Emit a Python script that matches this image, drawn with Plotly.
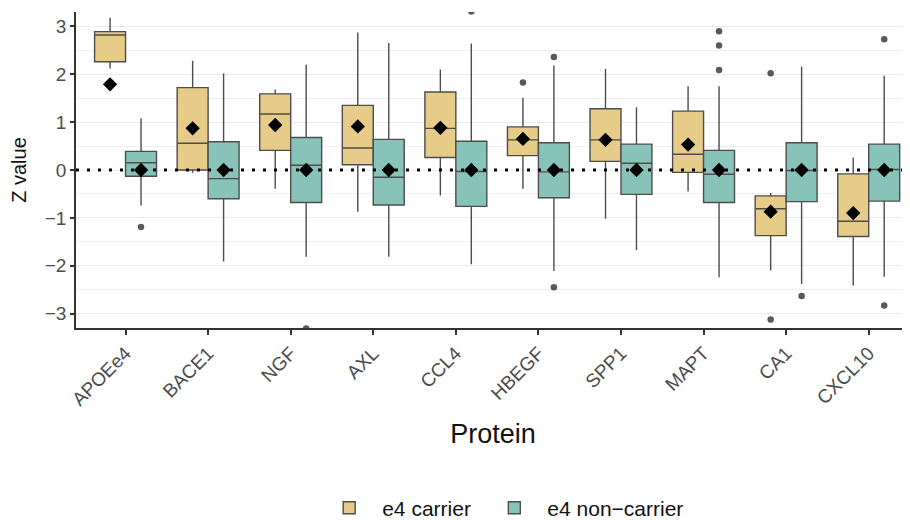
import plotly.graph_objects as go

proteins = ["APOEe4", "BACE1", "NGF", "AXL", "CCL4", "HBEGF", "SPP1", "MAPT", "CA1", "CXCL10"]
groups = ["e4 carrier", "e4 non\u2212carrier"]

# e4 carrier
car_lower = [2.12, -0.06, -0.39, -0.87, -0.53, -0.39, -1.02, -0.45, -2.10, -2.41]
car_q1 = [2.26, 0.00, 0.41, 0.11, 0.26, 0.30, 0.18, -0.05, -1.37, -1.39]
car_median = [2.82, 0.56, 1.17, 0.46, 0.87, 0.63, 0.63, 0.33, -0.81, -1.07]
car_q3 = [2.89, 1.72, 1.59, 1.35, 1.63, 0.90, 1.28, 1.23, -0.54, -0.08]
car_upper = [3.18, 2.28, 1.68, 2.87, 2.10, 1.51, 2.11, 1.75, -0.48, 0.26]
car_mean = [1.79, 0.87, 0.94, 0.91, 0.88, 0.65, 0.63, 0.53, -0.87, -0.90]
car_outliers = [[], [], [], [], [], [1.83], [], [], [2.02, -3.12], []]

# e4 non-carrier
non_lower = [-0.74, -1.91, -1.81, -1.81, -1.97, -2.11, -1.67, -2.24, -2.38, -2.23]
non_q1 = [-0.13, -0.60, -0.68, -0.73, -0.76, -0.58, -0.51, -0.68, -0.66, -0.65]
non_median = [0.15, -0.18, 0.10, -0.15, -0.03, -0.04, 0.14, -0.09, -0.01, 0.01]
non_q3 = [0.39, 0.59, 0.68, 0.64, 0.60, 0.57, 0.54, 0.41, 0.57, 0.54]
non_upper = [1.08, 2.02, 2.20, 2.65, 2.64, 2.18, 1.31, 1.75, 2.16, 1.97]
non_mean = [0.0, 0.0, 0.0, 0.0, 0.0, 0.0, 0.0, 0.0, 0.0, 0.0]
non_outliers = [[-1.19], [], [-3.31], [], [3.31], [2.36, -2.45], [], [2.90, 2.60, 2.09], [-2.63], [2.73, -2.83]]

y_ticks = [-3, -2, -1, 0, 1, 2, 3]

fill_colors = ["#E6CB89", "#88C3B9"]
legend_ids = ["legend", "legend2"]
dodge = 0.1875
box_w = 0.375

fig = go.Figure()

series = [
    (car_lower, car_q1, car_median, car_q3, car_upper, car_mean, car_outliers),
    (non_lower, non_q1, non_median, non_q3, non_upper, non_mean, non_outliers),
]

for gi, (lo, q1, med, q3, up, mn, outs) in enumerate(series):
    off = -dodge if gi == 0 else dodge
    xs = [i + off for i in range(len(proteins))]
    fig.add_trace(go.Box(
        x=xs, lowerfence=lo, q1=q1, median=med, q3=q3, upperfence=up,
        width=box_w, whiskerwidth=0, boxpoints=False,
        fillcolor=fill_colors[gi],
        line=dict(color="#4D4D4D", width=1.4),
        name=groups[gi], legendgroup=groups[gi], showlegend=True,
        legend=legend_ids[gi],
    ))
    ox, oy = [], []
    for i, vals in enumerate(outs):
        for v in vals:
            ox.append(i + off)
            oy.append(v)
    fig.add_trace(go.Scatter(
        x=ox, y=oy, mode="markers",
        marker=dict(color="#595959", size=6.5, symbol="circle"),
        showlegend=False, legendgroup=groups[gi], cliponaxis=True,
    ))
    fig.add_trace(go.Scatter(
        x=xs, y=mn, mode="markers",
        marker=dict(color="black", size=11, symbol="diamond"),
        showlegend=False, legendgroup=groups[gi],
    ))

fig.add_shape(type="line", xref="paper", x0=0, x1=1, yref="y", y0=0, y1=0,
              line=dict(color="black", width=3, dash="3px,8px"), layer="above")

font_family = "Liberation Sans, Arial, sans-serif"
legend_style = dict(orientation="h", xanchor="left", y=-0.57, yanchor="middle",
                    font=dict(size=21, color="#111111"), itemwidth=56,
                    bgcolor="rgba(0,0,0,0)")

fig.update_layout(
    width=902, height=520,
    margin=dict(l=68, r=0, t=4, b=200, autoexpand=False),
    paper_bgcolor="white", plot_bgcolor="white",
    font=dict(family=font_family, color="#222222"),
    showlegend=True,
    legend=dict(x=0.288, **legend_style),
    legend2=dict(x=0.486, **legend_style),
    xaxis=dict(
        range=[-0.6, 9.5], tickmode="array",
        tickvals=list(range(len(proteins))), ticktext=proteins,
        tickangle=-45, tickfont=dict(size=19, color="#4D4D4D"),
        ticks="outside", ticklen=5, tickwidth=1.5, tickcolor="#333333",
        showline=True, linecolor="#333333", linewidth=1.5,
        showgrid=False, zeroline=False,
        title=dict(text="Protein", font=dict(size=27, color="#111111"), standoff=15),
        automargin=False,
    ),
    yaxis=dict(
        range=[-3.3, 3.3], tickmode="array", tickvals=y_ticks,
        ticktext=[("\u2212" + str(abs(t))) if t < 0 else str(t) for t in y_ticks],
        tickfont=dict(size=19, color="#4D4D4D"),
        ticks="outside", ticklen=4, tickwidth=1.5, tickcolor="#333333",
        showline=True, linecolor="#333333", linewidth=1.5,
        showgrid=True, gridcolor="#EBEBEB", gridwidth=1,
        minor=dict(showgrid=True, gridcolor="#EFEFEF", gridwidth=0.8, dtick=0.5, tick0=0),
        zeroline=False,
        title=dict(text="Z value", font=dict(size=20, color="#111111"), standoff=15),
        automargin=False,
    ),
)

fig.write_html("out.html")
